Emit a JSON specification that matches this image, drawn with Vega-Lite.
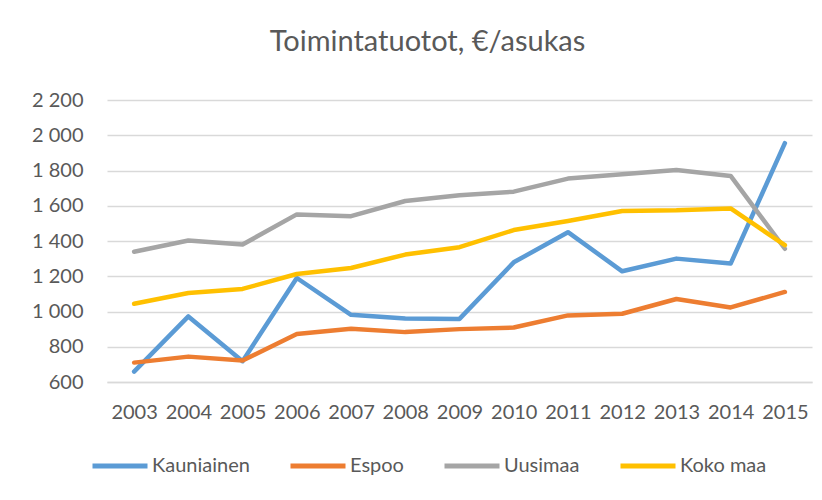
{
  "$schema": "https://vega.github.io/schema/vega-lite/v6.json",
  "autosize": {"type": "none"},
  "padding": {"left": 107, "top": 100, "right": 10, "bottom": 118},
  "width": 705,
  "height": 282,
  "background": "white",
  "title": {
    "text": "Toimintatuotot, €/asukas",
    "font": "Lato",
    "fontSize": 29,
    "fontWeight": "normal",
    "color": "#595959",
    "anchor": "middle",
    "frame": "group",
    "dx": -32,
    "offset": 33
  },
  "data": {
    "values": [
      {"vuosi": "2003", "sarja": "Kauniainen", "arvo": 659},
      {"vuosi": "2004", "sarja": "Kauniainen", "arvo": 972},
      {"vuosi": "2005", "sarja": "Kauniainen", "arvo": 718},
      {"vuosi": "2006", "sarja": "Kauniainen", "arvo": 1190},
      {"vuosi": "2007", "sarja": "Kauniainen", "arvo": 981},
      {"vuosi": "2008", "sarja": "Kauniainen", "arvo": 960},
      {"vuosi": "2009", "sarja": "Kauniainen", "arvo": 958},
      {"vuosi": "2010", "sarja": "Kauniainen", "arvo": 1279},
      {"vuosi": "2011", "sarja": "Kauniainen", "arvo": 1450},
      {"vuosi": "2012", "sarja": "Kauniainen", "arvo": 1228},
      {"vuosi": "2013", "sarja": "Kauniainen", "arvo": 1300},
      {"vuosi": "2014", "sarja": "Kauniainen", "arvo": 1272},
      {"vuosi": "2015", "sarja": "Kauniainen", "arvo": 1955},
      {"vuosi": "2003", "sarja": "Espoo", "arvo": 710},
      {"vuosi": "2004", "sarja": "Espoo", "arvo": 744},
      {"vuosi": "2005", "sarja": "Espoo", "arvo": 722},
      {"vuosi": "2006", "sarja": "Espoo", "arvo": 872},
      {"vuosi": "2007", "sarja": "Espoo", "arvo": 902},
      {"vuosi": "2008", "sarja": "Espoo", "arvo": 883},
      {"vuosi": "2009", "sarja": "Espoo", "arvo": 900},
      {"vuosi": "2010", "sarja": "Espoo", "arvo": 909},
      {"vuosi": "2011", "sarja": "Espoo", "arvo": 978},
      {"vuosi": "2012", "sarja": "Espoo", "arvo": 987},
      {"vuosi": "2013", "sarja": "Espoo", "arvo": 1071},
      {"vuosi": "2014", "sarja": "Espoo", "arvo": 1023},
      {"vuosi": "2015", "sarja": "Espoo", "arvo": 1111},
      {"vuosi": "2003", "sarja": "Uusimaa", "arvo": 1339},
      {"vuosi": "2004", "sarja": "Uusimaa", "arvo": 1403},
      {"vuosi": "2005", "sarja": "Uusimaa", "arvo": 1380},
      {"vuosi": "2006", "sarja": "Uusimaa", "arvo": 1551},
      {"vuosi": "2007", "sarja": "Uusimaa", "arvo": 1541},
      {"vuosi": "2008", "sarja": "Uusimaa", "arvo": 1627},
      {"vuosi": "2009", "sarja": "Uusimaa", "arvo": 1659},
      {"vuosi": "2010", "sarja": "Uusimaa", "arvo": 1680},
      {"vuosi": "2011", "sarja": "Uusimaa", "arvo": 1754},
      {"vuosi": "2012", "sarja": "Uusimaa", "arvo": 1779},
      {"vuosi": "2013", "sarja": "Uusimaa", "arvo": 1803},
      {"vuosi": "2014", "sarja": "Uusimaa", "arvo": 1769},
      {"vuosi": "2015", "sarja": "Uusimaa", "arvo": 1356},
      {"vuosi": "2003", "sarja": "Koko maa", "arvo": 1044},
      {"vuosi": "2004", "sarja": "Koko maa", "arvo": 1105},
      {"vuosi": "2005", "sarja": "Koko maa", "arvo": 1128},
      {"vuosi": "2006", "sarja": "Koko maa", "arvo": 1213},
      {"vuosi": "2007", "sarja": "Koko maa", "arvo": 1247},
      {"vuosi": "2008", "sarja": "Koko maa", "arvo": 1323},
      {"vuosi": "2009", "sarja": "Koko maa", "arvo": 1365},
      {"vuosi": "2010", "sarja": "Koko maa", "arvo": 1462},
      {"vuosi": "2011", "sarja": "Koko maa", "arvo": 1513},
      {"vuosi": "2012", "sarja": "Koko maa", "arvo": 1570},
      {"vuosi": "2013", "sarja": "Koko maa", "arvo": 1574},
      {"vuosi": "2014", "sarja": "Koko maa", "arvo": 1585},
      {"vuosi": "2015", "sarja": "Koko maa", "arvo": 1376}
    ]
  },
  "mark": {"type": "line", "strokeWidth": 4.5, "strokeCap": "round", "strokeJoin": "round"},
  "encoding": {
    "x": {
      "field": "vuosi",
      "type": "ordinal",
      "scale": {"type": "point", "padding": 0.5},
      "axis": {
        "title": null,
        "labelAngle": 0,
        "ticks": false,
        "domain": true,
        "domainColor": "#d9d9d9",
        "domainWidth": 1.5,
        "labelFont": "Lato",
        "labelFontSize": 20,
        "labelColor": "#595959",
        "labelPadding": 20,
        "grid": false
      }
    },
    "y": {
      "field": "arvo",
      "type": "quantitative",
      "scale": {"domain": [600, 2200], "nice": false, "zero": false},
      "axis": {
        "title": null,
        "values": [600, 800, 1000, 1200, 1400, 1600, 1800, 2000, 2200],
        "labelExpr": "replace(format(datum.value, ','), ',', ' ')",
        "domain": false,
        "ticks": false,
        "grid": true,
        "gridColor": "#d9d9d9",
        "gridWidth": 1.5,
        "labelFont": "Lato",
        "labelFontSize": 20,
        "labelColor": "#595959",
        "labelPadding": 24
      }
    },
    "color": {
      "field": "sarja",
      "type": "nominal",
      "scale": {
        "domain": ["Kauniainen", "Espoo", "Uusimaa", "Koko maa"],
        "range": ["#5B9BD5", "#ED7D31", "#A5A5A5", "#FFC000"]
      },
      "legend": {
        "title": null,
        "orient": "none",
        "direction": "horizontal",
        "legendX": -17,
        "legendY": 336,
        "symbolType": "stroke",
        "symbolSize": 3025,
        "symbolStrokeWidth": 5,
        "labelFont": "Lato",
        "labelFontSize": 20,
        "labelColor": "#595959",
        "labelOffset": 2,
        "columnPadding": 30
      }
    }
  },
  "config": {"view": {"stroke": null}}
}
